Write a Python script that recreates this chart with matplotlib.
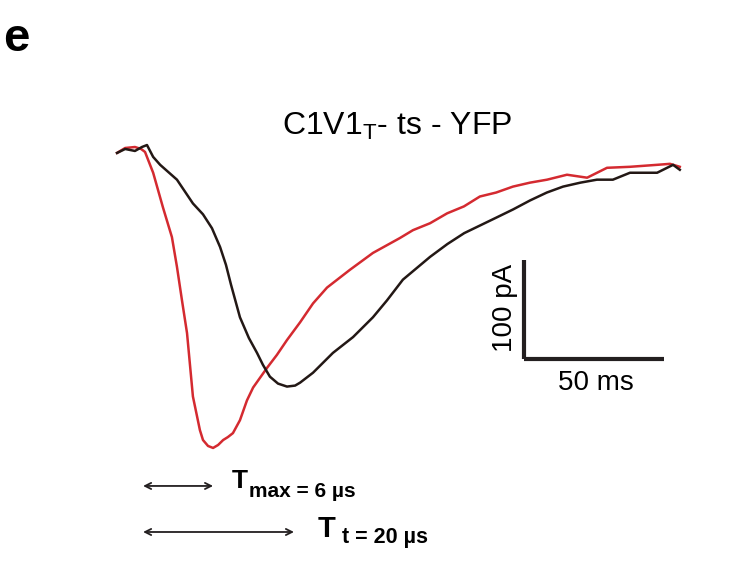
import matplotlib
matplotlib.use("Agg")
import matplotlib.pyplot as plt

plt.rcParams['font.family'] = ['Liberation Sans', 'DejaVu Sans']
plt.rcParams['mathtext.fontset'] = 'custom'
plt.rcParams['mathtext.rm'] = 'Liberation Sans'

# photocurrent traces, time (ms) from sweep start, current (pA)
red_t = [0, 2.9, 6.4, 8.6, 10, 12.9, 16.4, 19.6, 21.4, 23.2, 25, 27.1, 29.6,
         30.7, 32.5, 34.3, 36.1, 37.9, 39.6, 41.4, 43.9, 46.4, 48.6, 51.1,
         53.6, 57.1, 60.7, 65.4, 70, 75, 83.2, 91.4, 101, 105.7, 111.8,
         117.9, 123.9, 129.6, 135.4, 141.4, 147.5, 153.6, 160.7, 167.9, 175,
         183.2, 192.9, 197.5, 201]
red_i = [-3, 2, 3, 1, -2, -23, -58, -88, -118, -152, -185, -249, -283,
         -293, -299, -301, -298, -293, -290, -286, -273, -253, -240, -230,
         -220, -207, -192, -174, -155, -139, -121, -104, -89, -81, -74,
         -64, -57, -47, -43, -37, -33, -30, -25, -28, -18,
         -17, -15, -14, -17]

black_t = [0, 2.9, 6.4, 8.9, 10.7, 12.9, 15.4, 21.4, 27.1, 30.7, 33.9, 36.8,
           38.9, 40.7, 43.9, 47.1, 50, 52.1, 54.6, 57.5, 60.7, 63.6, 65.4, 70,
           77.1, 84.3, 91.4, 96.4, 102.1, 111.8, 118, 124, 135.7, 141.5, 147.5,
           153.5, 159.3, 165.5, 171.4, 177.1, 183.2, 192.9, 198.6, 201]
black_i = [-3, 1, -1, 3, 5, -7, -15, -30, -54, -65, -79, -98,
           -116, -136, -169, -190, -205, -217, -229, -236, -239, -238, -235,
           -225, -205, -189, -169, -152, -131, -108, -95, -84, -68, -60, -51,
           -43, -37, -33, -30, -30, -23, -23, -15, -20]

# scale bar and timing arrows
bar_ms = 50
bar_pa = 100
bar_t0 = 145.5
bar_i0 = -211
arrow_start = 9.3
t_max_end = 34.3
t_t_end = 63.2

RED = '#d42a30'
DARK = '#231815'
INK = '#231f20'

fig = plt.figure(figsize=(7.47, 5.61), dpi=100)
ax = fig.add_axes([0, 0, 1, 1])
ax.set_xlim(-41.8, 225)
ax.set_ylim(-415.2, 151.5)
ax.axis('off')

ax.plot(red_t, red_i, color=RED, lw=1.8, solid_joinstyle='round')
ax.plot(black_t, black_i, color=DARK, lw=1.8, solid_joinstyle='round')

# scale bars
ax.plot([bar_t0, bar_t0 + bar_ms], [bar_i0, bar_i0], color=INK, lw=3,
        solid_capstyle='butt')
ax.plot([bar_t0, bar_t0], [bar_i0, bar_i0 + bar_pa], color=INK, lw=3,
        solid_capstyle='butt')
fig.text(596 / 747, 1 - 383 / 561, '50 ms', fontsize=20, ha='center', va='center')
fig.text(505 / 747, 1 - 308 / 561, '100 pA', fontsize=20, ha='center',
         va='center', rotation=90)

# title and panel letter
fig.text(397 / 747, 1 - 135 / 561, r'C1V1$_\mathregular{T}$- ts - YFP',
         fontsize=23, ha='center', va='baseline')
fig.text(3 / 747, 1 - 51 / 561, 'e', fontsize=34, fontweight='bold', va='baseline')

# timing arrows
for end, y in [(t_max_end, -339.4), (t_t_end, -385.9)]:
    ax.annotate('', xy=(end, y), xytext=(arrow_start, y),
                arrowprops=dict(arrowstyle='<->', lw=1.3, color=INK,
                                shrinkA=0, shrinkB=0, mutation_scale=11))

fig.text(232 / 747, 1 - 488 / 561, 'T', fontsize=19, fontweight='bold', va='baseline')
fig.text(249 / 747, 1 - 497 / 561, 'max = 6 µs', fontsize=15, fontweight='bold',
         va='baseline')
fig.text(318 / 747, 1 - 537 / 561, 'T', fontsize=21, fontweight='bold', va='baseline')
fig.text(342 / 747, 1 - 543 / 561, 't = 20 µs', fontsize=15.5, fontweight='bold',
         va='baseline')

fig.savefig('out.png', dpi=100)
